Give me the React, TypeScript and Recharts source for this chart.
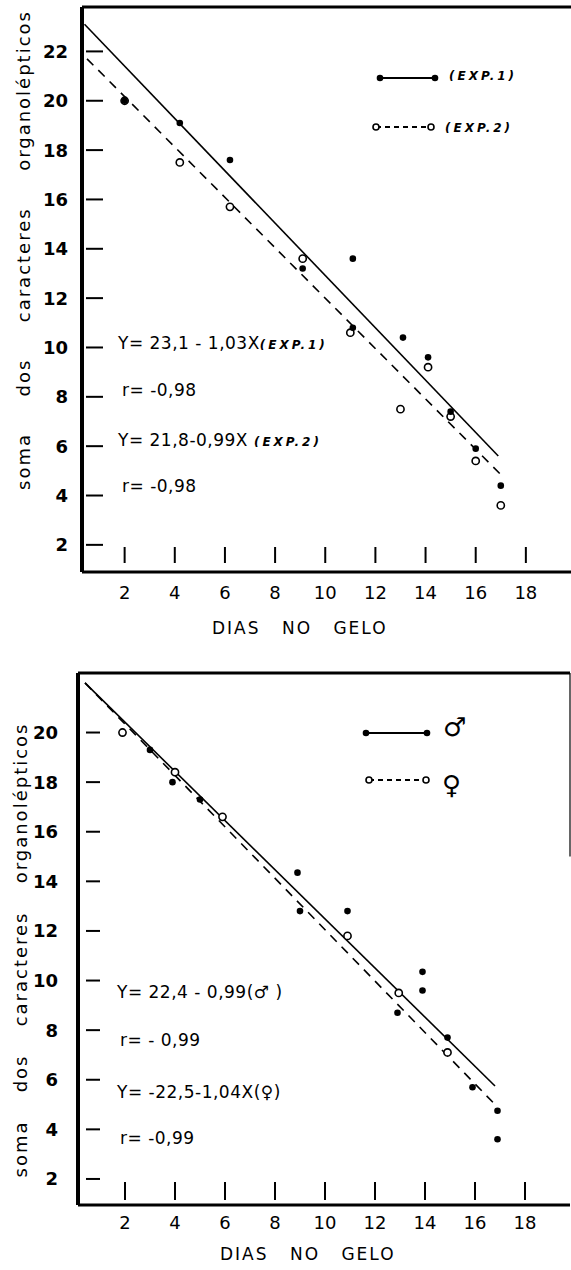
import { ComposedChart, Line, Scatter, XAxis, YAxis, ReferenceLine } from "recharts"

const xTicks = [2, 4, 6, 8, 10, 12, 14, 16, 18]
const yTicksTop = [2, 4, 6, 8, 10, 12, 14, 16, 18, 20, 22]
const yTicksBottom = [2, 4, 6, 8, 10, 12, 14, 16, 18, 20]

// top chart: experiment 1 (filled) and experiment 2 (open)
const exp1Days = [2, 4.2, 6.2, 9.1, 11.1, 11.1, 13.1, 14.1, 15.0, 16.0, 17.0]
const exp1Scores = [20, 19.1, 17.6, 13.2, 13.6, 10.8, 10.4, 9.6, 7.4, 5.9, 4.4]
const exp2Days = [2, 4.2, 6.2, 9.1, 11.0, 13.0, 14.1, 15.0, 16.0, 17.0]
const exp2Scores = [20, 17.5, 15.7, 13.6, 10.6, 7.5, 9.2, 7.2, 5.4, 3.6]
const exp1FitDays = [0.4, 16.9]
const exp1FitScores = [23.1, 5.6]
const exp2FitDays = [0.5, 17.0]
const exp2FitScores = [21.7, 4.85]

// bottom chart: males (filled) and females (open)
const maleDays = [3.0, 3.9, 5.0, 8.9, 9.0, 10.9, 12.9, 13.9, 13.9, 14.9, 15.9, 16.9, 16.9]
const maleScores = [19.3, 18.0, 17.3, 14.35, 12.8, 12.8, 8.7, 10.35, 9.6, 7.7, 5.7, 4.75, 3.6]
const femaleDays = [1.9, 4.0, 5.9, 10.9, 12.95, 14.9]
const femaleScores = [20.0, 18.4, 16.6, 11.8, 9.5, 7.1]
const maleFitDays = [0.4, 16.8]
const maleFitScores = [22.0, 5.75]
const femaleFitDays = [0.4, 16.9]
const femaleFitScores = [22.0, 4.9]

const pts = (xs: number[], ys: number[]) => xs.map((x, i) => ({ x, y: ys[i] }))

const FONT = "'DejaVu Sans', sans-serif"

const filledDot = (p: any) => <circle cx={p.cx} cy={p.cy} r={3.3} fill="#000" />
const openDot = (p: any) => <circle cx={p.cx} cy={p.cy} r={3.6} fill="#fff" stroke="#000" strokeWidth={1.6} />

function makeYTick(labelGap: number, t0: number, t1: number) {
  return (props: any) => {
    const { x, y, payload } = props
    return (
      <g>
        <line x1={x + t0} x2={x + t1} y1={y} y2={y} stroke="#000" strokeWidth={2} />
        <text x={x - labelGap} y={y} textAnchor="end" dominantBaseline="central" fontSize={18} fontWeight={700} fontFamily={FONT} fill="#000">
          {payload.value}
        </text>
      </g>
    )
  }
}

function makeXTick(t0: number, t1: number, labelDy: number) {
  return (props: any) => {
    const { x, y, payload } = props
    return (
      <g>
        <line x1={x} x2={x} y1={y - t0} y2={y - t1} stroke="#000" strokeWidth={2} />
        <text x={x} y={y + labelDy} textAnchor="middle" dominantBaseline="central" fontSize={18} fontFamily={FONT} fill="#000">
          {payload.value}
        </text>
      </g>
    )
  }
}

function YTitle({ cx, cy, len }: { cx: number; cy: number; len: number }) {
  const words = ["soma", "dos", "caracteres", "organolépticos"]
  return (
    <div
      style={{
        position: "absolute",
        left: cx - len / 2,
        top: cy - 11,
        width: len,
        height: 22,
        lineHeight: "22px",
        transform: "rotate(-90deg)",
        display: "flex",
        justifyContent: "space-between",
        fontSize: 18,
        letterSpacing: 2,
        fontFamily: FONT,
      }}
    >
      {words.map((w) => (
        <span key={w}>{w}</span>
      ))}
    </div>
  )
}

function Txt({ x, y, children, size = 17 }: { x: number; y: number; children: any; size?: number }) {
  return (
    <div style={{ position: "absolute", left: x, top: y - 11, lineHeight: "22px", fontSize: size, fontFamily: FONT, whiteSpace: "nowrap", letterSpacing: 0.5 }}>
      {children}
    </div>
  )
}

const small = { fontSize: 12, fontStyle: "italic", fontWeight: 700, letterSpacing: 3 } as const

function LegendRow({ x1, x2, y, dashed }: { x1: number; x2: number; y: number; dashed?: boolean }) {
  return (
    <svg style={{ position: "absolute", left: 0, top: 0, overflow: "visible" }} width={1} height={1}>
      <line x1={x1} x2={x2} y1={y} y2={y} stroke="#000" strokeWidth={1.8} strokeDasharray={dashed ? "5 4" : undefined} />
      {dashed ? (
        <>
          <circle cx={x1} cy={y} r={3} fill="#fff" stroke="#000" strokeWidth={1.6} />
          <circle cx={x2} cy={y} r={3} fill="#fff" stroke="#000" strokeWidth={1.6} />
        </>
      ) : (
        <>
          <circle cx={x1} cy={y} r={3.3} fill="#000" />
          <circle cx={x2} cy={y} r={3.3} fill="#000" />
        </>
      )}
    </svg>
  )
}

export default function App() {
  return (
    <div style={{ position: "absolute", left: 0, top: 0, width: 571, height: 1270, background: "#fff", fontFamily: FONT }}>
      {/* top chart */}
      <div style={{ position: "absolute", left: 0, top: 0 }}>
        <ComposedChart width={571} height={640} margin={{ top: 7, right: 0, bottom: 0, left: 0 }}>
          <XAxis
            type="number"
            dataKey="x"
            domain={[0.3, 19.8]}
            allowDataOverflow
            ticks={xTicks}
            interval={0}
            height={68}
            tickSize={0}
            tickMargin={0}
            tickLine={false}
            axisLine={{ stroke: "#000", strokeWidth: 3 }}
            tick={makeXTick(25, 9, 20)}
          />
          <YAxis
            type="number"
            dataKey="y"
            domain={[0.9, 23.8]}
            allowDataOverflow
            ticks={yTicksTop}
            interval={0}
            width={82}
            tickSize={0}
            tickMargin={0}
            tickLine={false}
            axisLine={{ stroke: "#000", strokeWidth: 4 }}
            tick={makeYTick(14, 4, 21)}
          />
          <ReferenceLine y={23.8} stroke="#000" strokeWidth={3} />
          <Line data={pts(exp1FitDays, exp1FitScores)} dataKey="y" type="linear" stroke="#000" strokeWidth={1.6} dot={false} activeDot={false} isAnimationActive={false} />
          <Line data={pts(exp2FitDays, exp2FitScores)} dataKey="y" type="linear" stroke="#000" strokeWidth={1.6} strokeDasharray="9 7" dot={false} activeDot={false} isAnimationActive={false} />
          <Scatter data={pts(exp2Days, exp2Scores)} dataKey="y" shape={openDot} isAnimationActive={false} />
          <Scatter data={pts(exp1Days, exp1Scores)} dataKey="y" shape={filledDot} isAnimationActive={false} />
        </ComposedChart>
      </div>
      <YTitle cx={24} cy={250} len={480} />
      <LegendRow x1={380} x2={435} y={78} />
      <Txt x={449} y={74}><span style={small}>(EXP.1)</span></Txt>
      <LegendRow x1={376} x2={431} y={127} dashed />
      <Txt x={445} y={126}><span style={small}>(EXP.2)</span></Txt>
      <Txt x={118} y={343}>Y= 23,1 - 1,03X<span style={small}>(EXP.1)</span></Txt>
      <Txt x={122} y={390}>r= -0,98</Txt>
      <Txt x={118} y={440}>Y= 21,8-0,99X <span style={small}>(EXP.2)</span></Txt>
      <Txt x={122} y={486}>r= -0,98</Txt>
      <Txt x={212} y={628}><span style={{ letterSpacing: 2, wordSpacing: 14 }}>DIAS NO GELO</span></Txt>

      {/* bottom chart */}
      <div style={{ position: "absolute", left: 0, top: 666 }}>
        <ComposedChart width={571} height={604} margin={{ top: 7, right: 1, bottom: 0, left: 0 }}>
          <XAxis
            type="number"
            dataKey="x"
            domain={[0.12, 19.8]}
            allowDataOverflow
            ticks={xTicks}
            interval={0}
            height={65}
            tickSize={0}
            tickMargin={0}
            tickLine={false}
            axisLine={{ stroke: "#000", strokeWidth: 3 }}
            tick={makeXTick(23, 5, 17)}
          />
          <YAxis
            type="number"
            dataKey="y"
            domain={[0.95, 22.4]}
            allowDataOverflow
            ticks={yTicksBottom}
            interval={0}
            width={78}
            tickSize={0}
            tickMargin={0}
            tickLine={false}
            axisLine={{ stroke: "#000", strokeWidth: 4 }}
            tick={makeYTick(20, 8, 22)}
          />
          <ReferenceLine y={22.4} stroke="#000" strokeWidth={3} />
          <ReferenceLine segment={[{ x: 19.8, y: 22.4 }, { x: 19.8, y: 15 }]} stroke="#000" strokeWidth={1.2} />
          <Line data={pts(maleFitDays, maleFitScores)} dataKey="y" type="linear" stroke="#000" strokeWidth={1.6} dot={false} activeDot={false} isAnimationActive={false} />
          <Line data={pts(femaleFitDays, femaleFitScores)} dataKey="y" type="linear" stroke="#000" strokeWidth={1.6} strokeDasharray="9 7" dot={false} activeDot={false} isAnimationActive={false} />
          <Scatter data={pts(femaleDays, femaleScores)} dataKey="y" shape={openDot} isAnimationActive={false} />
          <Scatter data={pts(maleDays, maleScores)} dataKey="y" shape={filledDot} isAnimationActive={false} />
        </ComposedChart>
      </div>
      <YTitle cx={20} cy={950} len={455} />
      <LegendRow x1={366} x2={427} y={733} />
      <Txt x={443} y={727} size={26}>♂</Txt>
      <LegendRow x1={369} x2={426} y={780} dashed />
      <Txt x={442} y={785} size={26}>♀</Txt>
      <Txt x={117} y={992}>Y= 22,4 - 0,99(♂ )</Txt>
      <Txt x={120} y={1040}>r= - 0,99</Txt>
      <Txt x={117} y={1092}>Y= -22,5-1,04X(♀)</Txt>
      <Txt x={120} y={1138}>r= -0,99</Txt>
      <Txt x={220} y={1254}><span style={{ letterSpacing: 2, wordSpacing: 14 }}>DIAS NO GELO</span></Txt>
    </div>
  )
}
